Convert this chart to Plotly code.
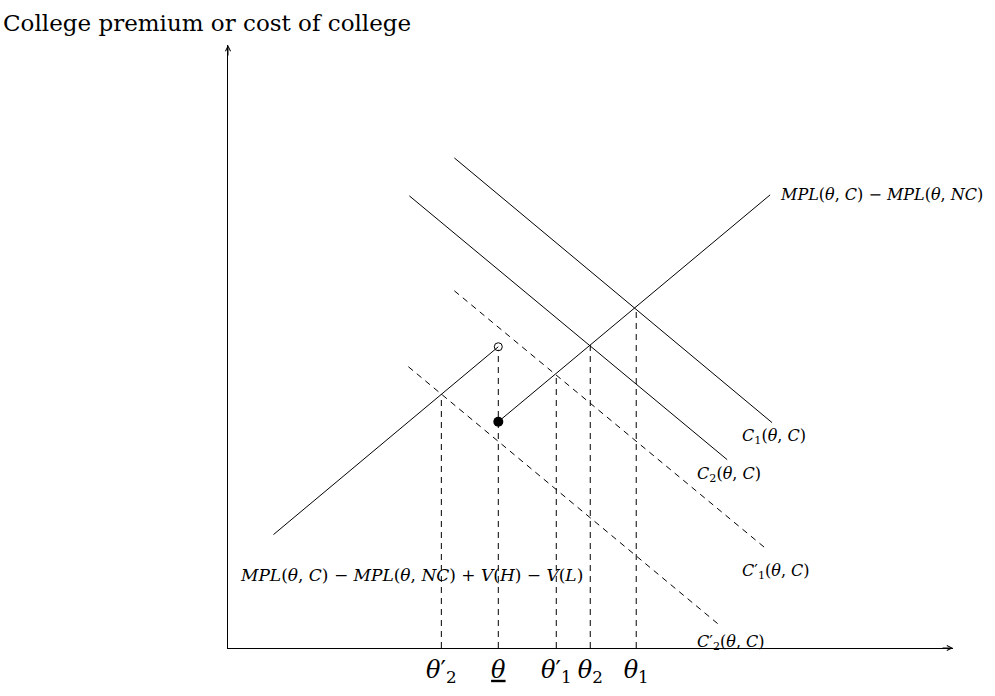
import plotly.graph_objects as go

# ---- data (units: chart coordinates) ----
mpl_high_x = [5.41, 10.85]
mpl_high_y = [4.53, 9.07]
mpl_low_x = [0.91, 5.41]
mpl_low_y = [2.27, 6.03]
c1_x = [4.53, 10.89]
c1_y = [9.81, 4.51]
c2_x = [3.63, 9.99]
c2_y = [9.05, 3.77]
c1p_x = [4.53, 10.79]
c1p_y = [7.15, 1.97]
c2p_x = [3.61, 9.87]
c2p_y = [5.63, 0.43]

theta_pos = [4.27, 5.41, 6.57, 7.25, 8.17]
theta_tops = [5.08, 5.97, 5.50, 6.07, 6.83]
tick_labels = ["<i>θ</i>′<sub>2</sub>", "<u><i>θ</i></u>", "<i>θ</i>′<sub>1</sub>",
               "<i>θ</i><sub>2</sub>", "<i>θ</i><sub>1</sub>"]

open_pt = (5.41, 6.03)
closed_pt = (5.41, 4.53)

x_end = 14.51
y_end = 12.07

SERIF = "DejaVu Serif"
BLACK = "#000000"

fig = go.Figure()

def solid(x, y):
    fig.add_trace(go.Scatter(x=x, y=y, mode="lines",
                             line=dict(color=BLACK, width=1), hoverinfo="skip"))

def dashed(x, y):
    fig.add_trace(go.Scatter(x=x, y=y, mode="lines",
                             line=dict(color=BLACK, width=1, dash="6px,5px"),
                             hoverinfo="skip"))

solid(mpl_high_x, mpl_high_y)
solid(mpl_low_x, mpl_low_y)
solid(c1_x, c1_y)
solid(c2_x, c2_y)
dashed(c1p_x, c1p_y)
dashed(c2p_x, c2p_y)

vx, vy = [], []
for xv, top in zip(theta_pos, theta_tops):
    vx += [xv, xv, None]
    vy += [0, top, None]
dashed(vx, vy)

fig.add_trace(go.Scatter(x=[open_pt[0]], y=[open_pt[1]], mode="markers",
                         marker=dict(symbol="circle-open", size=8, color=BLACK,
                                     line=dict(width=1)), hoverinfo="skip"))
fig.add_trace(go.Scatter(x=[closed_pt[0]], y=[closed_pt[1]], mode="markers",
                         marker=dict(symbol="circle", size=10, color=BLACK),
                         hoverinfo="skip"))

# axis arrows
fig.add_annotation(x=x_end, y=0, ax=-12, ay=0, showarrow=True, arrowhead=5,
                   arrowsize=1, arrowwidth=1, arrowcolor=BLACK, text="")
fig.add_annotation(x=0, y=y_end, ax=0, ay=12, showarrow=True, arrowhead=5,
                   arrowsize=1, arrowwidth=1, arrowcolor=BLACK, text="")

def label(x, y, text, size, xanchor="left"):
    fig.add_annotation(x=x, y=y, text=text, showarrow=False, xanchor=xanchor,
                       yanchor="middle", font=dict(family=SERIF, size=size, color=BLACK))

label(11.01, 9.07, "<i>MPL</i>(<i>θ</i>, <i>C</i>) − <i>MPL</i>(<i>θ</i>, <i>NC</i>)", 16)
label(0.21, 1.47, "<i>MPL</i>(<i>θ</i>, <i>C</i>) − <i>MPL</i>(<i>θ</i>, <i>NC</i>) + <i>V</i>(<i>H</i>) − <i>V</i>(<i>L</i>)", 17)
label(10.25, 4.23, "<i>C</i><sub>1</sub>(<i>θ</i>, <i>C</i>)", 16)
label(9.35, 3.47, "<i>C</i><sub>2</sub>(<i>θ</i>, <i>C</i>)", 16)
label(10.25, 1.53, "<i>C</i>′<sub>1</sub>(<i>θ</i>, <i>C</i>)", 16)
label(9.35, 0.11, "<i>C</i>′<sub>2</sub>(<i>θ</i>, <i>C</i>)", 16)
label(x_end - 0.02, -0.4, "<i>θ</i>", 24, xanchor="center")

fig.add_annotation(xref="paper", yref="paper", x=-227 / 725.5, y=1 + 22 / 603.5,
                   text="College premium or cost of college", showarrow=False,
                   xanchor="left", yanchor="middle",
                   font=dict(family=SERIF, size=23, color=BLACK))

fig.update_layout(
    width=995, height=696,
    margin=dict(l=227.5, r=42, t=45, b=47.5, autoexpand=False),
    paper_bgcolor="white", plot_bgcolor="white",
    showlegend=False,
    xaxis=dict(range=[0, x_end], showgrid=False, zeroline=False, showline=True,
               linecolor=BLACK, linewidth=1, ticks="", tickvals=theta_pos,
               ticktext=tick_labels, tickfont=dict(family=SERIF, size=24, color=BLACK),
               automargin=False, fixedrange=True),
    yaxis=dict(range=[0, y_end], showgrid=False, zeroline=False, showline=True,
               linecolor=BLACK, linewidth=1, showticklabels=False, ticks="",
               automargin=False, fixedrange=True),
)

fig.write_html("out.html")
